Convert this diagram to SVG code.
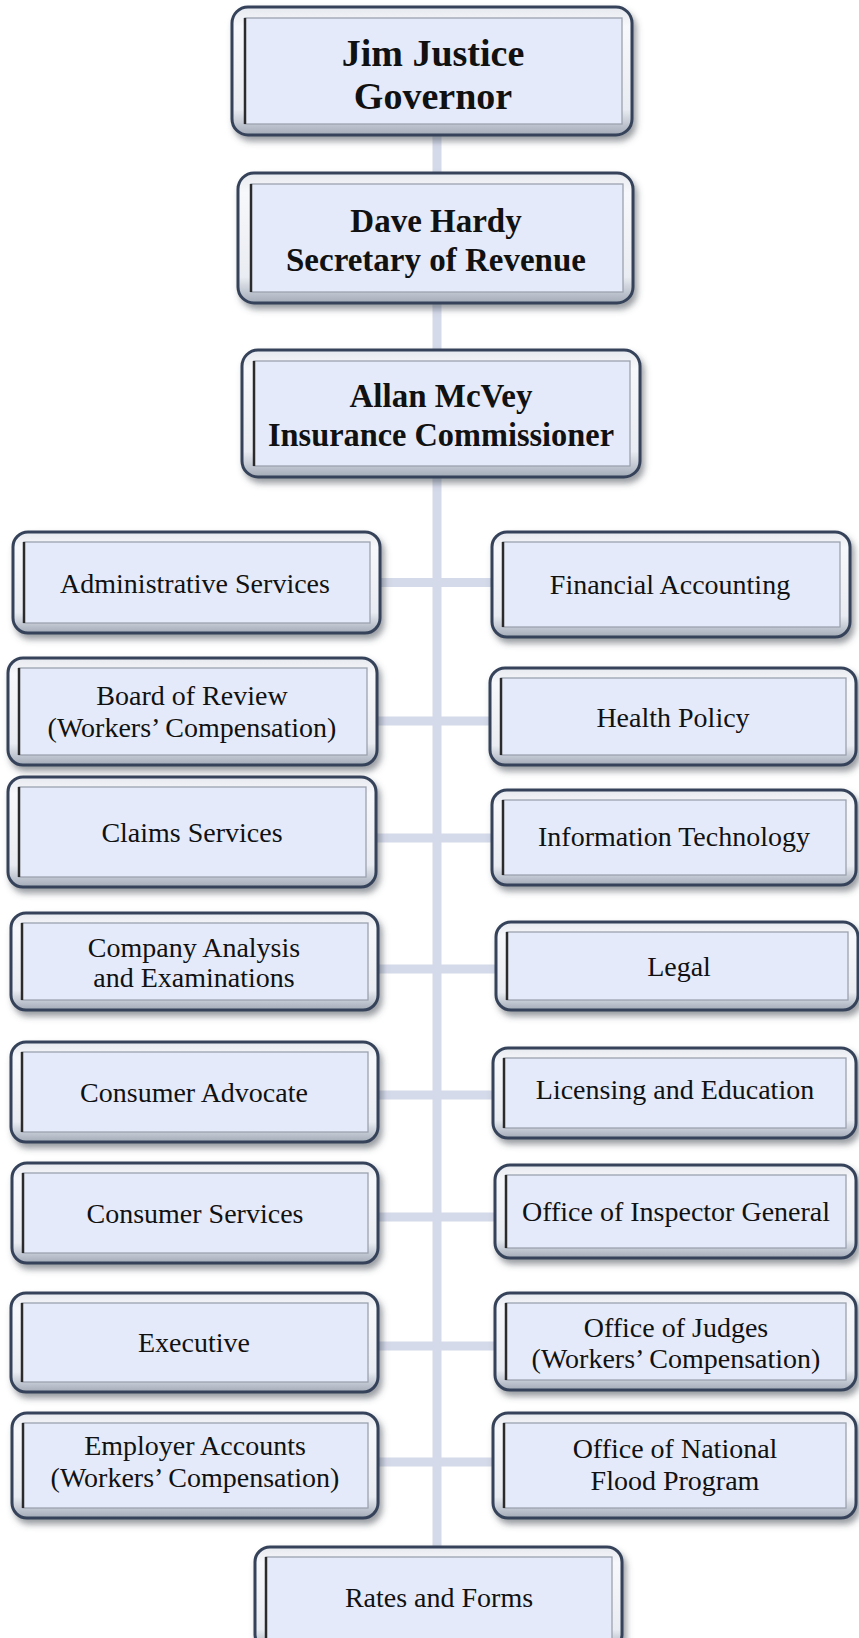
<svg xmlns="http://www.w3.org/2000/svg" width="859" height="1638" viewBox="0 0 859 1638">
<defs>
<linearGradient id="bev" x1="0" y1="0" x2="0" y2="1">
<stop offset="0" stop-color="#e6e9ef"/>
<stop offset="0.15" stop-color="#f7f8fb"/>
<stop offset="0.8" stop-color="#e9ecf2"/>
<stop offset="1" stop-color="#a3abb8"/>
</linearGradient>
<filter id="sh" x="-10%" y="-10%" width="125%" height="135%">
<feDropShadow dx="3" dy="5" stdDeviation="3" flood-color="#4a4f58" flood-opacity="0.55"/>
</filter>
<style>
.o{fill:url(#bev);stroke:#34435a;stroke-width:3;filter:url(#sh)}
.i{fill:#e4eaf9;stroke:#9ba2ae;stroke-width:1.3}
.l{stroke:#2b2b2b;stroke-width:2.5}
.c{fill:#d5daea}
text{font-family:"Liberation Serif","Times New Roman",serif;fill:#111;text-anchor:middle}
.b{font-weight:bold}
.g{font-size:38px}
.m{font-size:33px}
.r{font-size:28px}
</style>
</defs>
<rect width="859" height="1638" fill="#ffffff"/>
<g id="connectors">
<rect class="c" x="432.5" y="130" width="9" height="1420"/>
<rect class="c" x="378" y="578" width="116" height="9"/>
<rect class="c" x="376" y="716.5" width="116" height="9"/>
<rect class="c" x="375" y="833.5" width="119" height="9"/>
<rect class="c" x="377" y="964.5" width="121" height="9"/>
<rect class="c" x="377" y="1090.5" width="118" height="9"/>
<rect class="c" x="377" y="1212.5" width="120" height="9"/>
<rect class="c" x="377" y="1341.5" width="120" height="9"/>
<rect class="c" x="377" y="1457.5" width="118" height="9"/>
</g>
<g id="gov">
<rect class="o" x="232" y="7" width="400" height="128" rx="16"/>
<rect class="i" x="245" y="18" width="377" height="106"/>
<line class="l" x1="245" y1="18" x2="245" y2="124"/>
<text class="b g" x="433" y="66">Jim Justice</text>
<text class="b g" x="433" y="109">Governor</text>
</g>
<g id="hardy">
<rect class="o" x="238" y="173" width="395" height="130" rx="16"/>
<rect class="i" x="251" y="184" width="372" height="108"/>
<line class="l" x1="251" y1="184" x2="251" y2="292"/>
<text class="b m" x="436" y="232">Dave Hardy</text>
<text class="b m" x="436" y="271">Secretary of Revenue</text>
</g>
<g id="mcvey">
<rect class="o" x="242" y="350" width="398" height="127" rx="16"/>
<rect class="i" x="254" y="361" width="376" height="105"/>
<line class="l" x1="254" y1="361" x2="254" y2="466"/>
<text class="b m" x="441" y="407">Allan McVey</text>
<text class="b m" x="441" y="446" textLength="346" lengthAdjust="spacingAndGlyphs">Insurance Commissioner</text>
</g>
<g id="admin">
<rect class="o" x="13" y="532" width="367" height="101" rx="15"/>
<rect class="i" x="24" y="542" width="346" height="81"/>
<line class="l" x1="24" y1="542" x2="24" y2="623"/>
<text class="r" x="195" y="593">Administrative Services</text>
</g>
<g id="board">
<rect class="o" x="8" y="658" width="369" height="107" rx="15"/>
<rect class="i" x="19" y="668" width="348" height="87"/>
<line class="l" x1="19" y1="668" x2="19" y2="755"/>
<text class="r" x="192" y="705">Board of Review</text>
<text class="r" x="192" y="737">(Workers’ Compensation)</text>
</g>
<g id="claims">
<rect class="o" x="8" y="777" width="368" height="110" rx="15"/>
<rect class="i" x="19" y="787" width="347" height="90"/>
<line class="l" x1="19" y1="787" x2="19" y2="877"/>
<text class="r" x="192" y="842">Claims Services</text>
</g>
<g id="company">
<rect class="o" x="11" y="913" width="367" height="97" rx="15"/>
<rect class="i" x="22" y="923" width="346" height="77"/>
<line class="l" x1="22" y1="923" x2="22" y2="1000"/>
<text class="r" x="194" y="957">Company Analysis</text>
<text class="r" x="194" y="987">and Examinations</text>
</g>
<g id="advocate">
<rect class="o" x="11" y="1042" width="367" height="100" rx="15"/>
<rect class="i" x="22" y="1052" width="346" height="80"/>
<line class="l" x1="22" y1="1052" x2="22" y2="1132"/>
<text class="r" x="194" y="1102">Consumer Advocate</text>
</g>
<g id="consumer-services">
<rect class="o" x="12" y="1163" width="366" height="100" rx="15"/>
<rect class="i" x="23" y="1173" width="345" height="80"/>
<line class="l" x1="23" y1="1173" x2="23" y2="1253"/>
<text class="r" x="195" y="1223">Consumer Services</text>
</g>
<g id="executive">
<rect class="o" x="11" y="1293" width="367" height="99" rx="15"/>
<rect class="i" x="22" y="1303" width="346" height="79"/>
<line class="l" x1="22" y1="1303" x2="22" y2="1382"/>
<text class="r" x="194" y="1352">Executive</text>
</g>
<g id="employer">
<rect class="o" x="12" y="1413" width="366" height="105" rx="15"/>
<rect class="i" x="23" y="1423" width="345" height="85"/>
<line class="l" x1="23" y1="1423" x2="23" y2="1508"/>
<text class="r" x="195" y="1455">Employer Accounts</text>
<text class="r" x="195" y="1487">(Workers’ Compensation)</text>
</g>
<g id="financial">
<rect class="o" x="492" y="532" width="358" height="105" rx="15"/>
<rect class="i" x="503" y="542" width="337" height="85"/>
<line class="l" x1="503" y1="542" x2="503" y2="627"/>
<text class="r" x="670" y="594">Financial Accounting</text>
</g>
<g id="health">
<rect class="o" x="490" y="668" width="366" height="97" rx="15"/>
<rect class="i" x="501" y="678" width="345" height="77"/>
<line class="l" x1="501" y1="678" x2="501" y2="755"/>
<text class="r" x="673" y="727">Health Policy</text>
</g>
<g id="it">
<rect class="o" x="492" y="790" width="364" height="95" rx="15"/>
<rect class="i" x="503" y="800" width="343" height="75"/>
<line class="l" x1="503" y1="800" x2="503" y2="875"/>
<text class="r" x="674" y="846">Information Technology</text>
</g>
<g id="legal">
<rect class="o" x="496" y="922" width="362" height="88" rx="15"/>
<rect class="i" x="507" y="932" width="341" height="68"/>
<line class="l" x1="507" y1="932" x2="507" y2="1000"/>
<text class="r" x="679" y="976">Legal</text>
</g>
<g id="licensing">
<rect class="o" x="493" y="1048" width="363" height="90" rx="15"/>
<rect class="i" x="504" y="1058" width="342" height="70"/>
<line class="l" x1="504" y1="1058" x2="504" y2="1128"/>
<text class="r" x="675" y="1099">Licensing and Education</text>
</g>
<g id="inspector">
<rect class="o" x="495" y="1165" width="361" height="93" rx="15"/>
<rect class="i" x="506" y="1175" width="340" height="73"/>
<line class="l" x1="506" y1="1175" x2="506" y2="1248"/>
<text class="r" x="676" y="1221">Office of Inspector General</text>
</g>
<g id="judges">
<rect class="o" x="495" y="1293" width="361" height="97" rx="15"/>
<rect class="i" x="506" y="1303" width="340" height="77"/>
<line class="l" x1="506" y1="1303" x2="506" y2="1380"/>
<text class="r" x="676" y="1337">Office of Judges</text>
<text class="r" x="676" y="1368">(Workers’ Compensation)</text>
</g>
<g id="flood">
<rect class="o" x="493" y="1413" width="363" height="105" rx="15"/>
<rect class="i" x="504" y="1423" width="342" height="85"/>
<line class="l" x1="504" y1="1423" x2="504" y2="1508"/>
<text class="r" x="675" y="1458">Office of National</text>
<text class="r" x="675" y="1490">Flood Program</text>
</g>
<g id="rates">
<rect class="o" x="255" y="1547" width="367" height="103" rx="15"/>
<rect class="i" x="266" y="1557" width="346" height="83"/>
<line class="l" x1="266" y1="1557" x2="266" y2="1640"/>
<text class="r" x="439" y="1607">Rates and Forms</text>
</g>
</svg>
